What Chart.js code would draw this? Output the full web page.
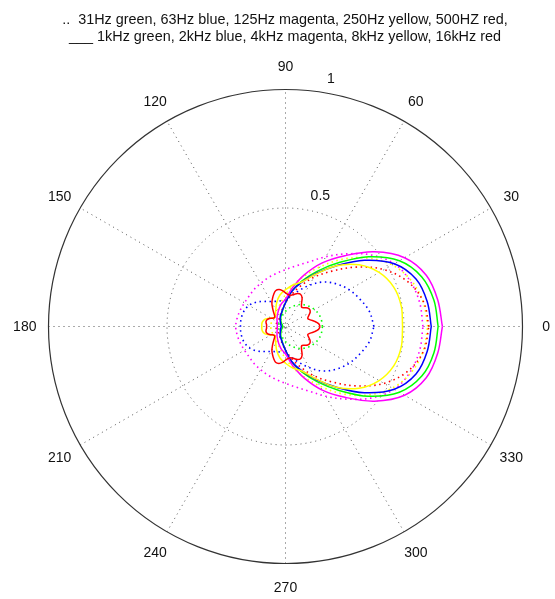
<!DOCTYPE html>
<html><head><meta charset="utf-8">
<script src="https://cdn.jsdelivr.net/npm/chart.js@4"></script>
<style>html,body{margin:0;padding:0;background:#fff}canvas{display:block}</style>
</head><body>
<canvas id="c" width="555" height="599"></canvas>
<script>
// ---- data ----
const titleLines = ["..  31Hz green, 63Hz blue, 125Hz magenta, 250Hz yellow, 500HZ red,",
                    "___ 1kHz green, 2kHz blue, 4kHz magenta, 8kHz yellow, 16kHz red"];
const angleTicks = [0,30,60,90,120,150,180,210,240,270,300,330];
const radialTicks = [0.5,1];
const radialTickLabels = ["0.5","1"];

const angles10 = [0,10,20,30,40,50,60,70,80,90,100,110,120,130,140,150,160,170,180,190,200,210,220,230,240,250,260,270,280,290,300,310,320,330,340,350,360];
const angles5 = [0,5,10,15,20,25,30,35,40,45,50,55,60,65,70,75,80,85,90,95,100,105,110,115,120,125,130,135,140,145,150,155,160,165,170,175,180,185,190,195,200,205,210,215,220,225,230,235,240,245,250,255,260,265,270,275,280,285,290,295,300,305,310,315,320,325,330,335,340,345,350,355,360];

// dotted (low frequencies)
const r31Hz  = [0.156,0.154,0.15,0.142,0.132,0.12,0.106,0.091,0.077,0.064,0.053,0.045,0.04,0.036,0.033,0.031,0.03,0.03,0.03,0.03,0.03,0.031,0.033,0.036,0.04,0.045,0.053,0.064,0.077,0.091,0.106,0.12,0.132,0.142,0.15,0.154,0.156];
const r63Hz  = [0.373,0.36,0.335,0.31,0.28,0.245,0.2,0.16,0.13,0.112,0.11,0.113,0.122,0.138,0.16,0.178,0.187,0.19,0.19,0.19,0.187,0.178,0.16,0.138,0.122,0.113,0.11,0.112,0.13,0.16,0.2,0.245,0.28,0.31,0.335,0.36,0.373];
const r125Hz = [0.58,0.575,0.56,0.53,0.47,0.4,0.34,0.29,0.26,0.24,0.227,0.218,0.21,0.205,0.2,0.2,0.203,0.207,0.21,0.207,0.203,0.2,0.2,0.205,0.21,0.218,0.227,0.24,0.26,0.29,0.34,0.4,0.47,0.53,0.56,0.575,0.58];
const r250Hz = [0.6,0.59,0.565,0.52,0.45,0.37,0.29,0.225,0.175,0.135,0.105,0.085,0.072,0.066,0.063,0.062,0.062,0.062,0.062,0.062,0.062,0.062,0.063,0.066,0.072,0.085,0.105,0.135,0.175,0.225,0.29,0.37,0.45,0.52,0.565,0.59,0.6];
const r500Hz = [0.605,0.592,0.55,0.48,0.39,0.305,0.24,0.18,0.135,0.1,0.075,0.058,0.048,0.042,0.04,0.04,0.04,0.04,0.04,0.04,0.04,0.04,0.04,0.042,0.048,0.058,0.075,0.1,0.135,0.18,0.24,0.305,0.39,0.48,0.55,0.592,0.605];

// solid (high frequencies)
const r1kHz  = [0.644,0.636,0.612,0.555,0.458,0.352,0.27,0.205,0.152,0.10,0.07,0.052,0.04,0.03,0.022,0.017,0.014,0.012,0.012,0.012,0.014,0.017,0.022,0.03,0.04,0.052,0.07,0.10,0.152,0.205,0.27,0.352,0.458,0.555,0.612,0.636,0.644];
const r2kHz  = [0.615,0.607,0.586,0.53,0.435,0.335,0.258,0.198,0.15,0.10,0.072,0.055,0.045,0.035,0.028,0.024,0.021,0.019,0.018,0.019,0.021,0.024,0.028,0.035,0.045,0.055,0.072,0.10,0.15,0.198,0.258,0.335,0.435,0.53,0.586,0.607,0.615];
const r4kHz  = [0.662,0.652,0.632,0.58,0.49,0.39,0.31,0.232,0.165,0.115,0.098,0.08,0.065,0.055,0.047,0.041,0.037,0.035,0.035,0.035,0.037,0.041,0.047,0.055,0.065,0.08,0.098,0.115,0.165,0.232,0.31,0.39,0.49,0.58,0.632,0.652,0.662];
const r8kHz  = [0.494,0.496,0.486,0.456,0.405,0.335,0.255,0.2,0.178,0.155,0.135,0.108,0.082,0.066,0.058,0.072,0.092,0.1,0.1,0.1,0.092,0.072,0.058,0.066,0.082,0.108,0.135,0.155,0.178,0.2,0.255,0.335,0.405,0.456,0.486,0.496,0.494];
const r16kHz = [0.146,0.14,0.125,0.108,0.10,0.108,0.12,0.125,0.122,0.112,0.106,0.118,0.14,0.15,0.148,0.14,0.134,0.135,0.142,0.152,0.158,0.157,0.145,0.13,0.115,0.095,0.078,0.065,0.06,0.062,0.07,0.078,0.083,0.085,0.083,0.08,0.08,
                0.08,0.083,0.085,0.083,0.078,0.07,0.062,0.06,0.065,0.078,0.095,0.115,0.13,0.145,0.157,0.158,0.152,0.142,0.135,0.134,0.14,0.148,0.15,0.14,0.118,0.106,0.112,0.122,0.125,0.12,0.108,0.10,0.108,0.125,0.14,0.146];

// ---- helpers ----
function toXY(angles, radii){
  return angles.map((a,i)=>({x: radii[i]*Math.cos(a*Math.PI/180), y: radii[i]*Math.sin(a*Math.PI/180)}));
}
const DOT = [1.5,3.5];
function ds(label, angles, radii, color, dotted, order){
  return {label, data: toXY(angles, radii), showLine:true, borderColor:color, backgroundColor:color,
          borderWidth: dotted?1.6:1.5, borderDash: dotted?DOT:[], pointRadius:0, tension:0.35, fill:false, order};
}

const FONT = '14px "Liberation Sans", Arial, sans-serif';
const TITLE_FONT = '14.4px "Liberation Sans", Arial, sans-serif';

const polarGrid = {
  id:'polarGrid',
  beforeDatasetsDraw(chart){
    const {ctx, scales:{x,y}} = chart;
    const cx = x.getPixelForValue(0), cy = y.getPixelForValue(0);
    const R = x.getPixelForValue(1) - cx;
    ctx.save();
    ctx.fillStyle = '#fff';
    ctx.beginPath(); ctx.arc(cx,cy,R,0,2*Math.PI); ctx.fill();
    ctx.strokeStyle = '#555'; ctx.lineWidth = 1; ctx.setLineDash([1,4]);
    radialTicks.forEach(t=>{
      if (t < 1) { ctx.beginPath(); ctx.arc(cx,cy,R*t,0,2*Math.PI); ctx.stroke(); }
    });
    for (let k=0;k<6;k++){
      const a = k*30*Math.PI/180;
      ctx.beginPath();
      ctx.moveTo(cx - R*Math.cos(a), cy + R*Math.sin(a));
      ctx.lineTo(cx + R*Math.cos(a), cy - R*Math.sin(a));
      ctx.stroke();
    }
    ctx.restore();
  },
  afterDatasetsDraw(chart){
    const {ctx, scales:{x,y}} = chart;
    const cx = x.getPixelForValue(0), cy = y.getPixelForValue(0);
    const R = x.getPixelForValue(1) - cx;
    ctx.save();
    ctx.setLineDash([]);
    ctx.strokeStyle = '#333'; ctx.lineWidth = 1.2;
    ctx.beginPath(); ctx.arc(cx,cy,R,0,2*Math.PI); ctx.stroke();
    ctx.fillStyle = '#111'; ctx.font = FONT;
    ctx.textAlign = 'center'; ctx.textBaseline = 'middle';
    angleTicks.forEach(a=>{
      const t = a*Math.PI/180;
      ctx.fillText(String(a), cx + 1.1*R*Math.cos(t), cy - 1.1*R*Math.sin(t) + 1);
    });
    // radial tick labels at 82 deg
    const t82 = 82*Math.PI/180;
    ctx.textAlign = 'left'; ctx.textBaseline = 'bottom';
    radialTicks.forEach((v,i)=>{
      const rr = (v + 0.025)*R;
      ctx.fillText('  ' + radialTickLabels[i], cx + rr*Math.cos(t82), cy - rr*Math.sin(t82));
    });
    // title
    ctx.font = TITLE_FONT;
    ctx.textAlign = 'center'; ctx.textBaseline = 'middle';
    ctx.fillText(titleLines[0], 285, 20);
    ctx.fillText(titleLines[1], 285, 37);
    ctx.restore();
  }
};

new Chart(document.getElementById('c'), {
  type:'scatter',
  data:{datasets:[
    ds('31Hz', angles10, r31Hz, '#00ff00', true, 10),
    ds('63Hz', angles10, r63Hz, '#0000ff', true, 9),
    ds('125Hz', angles10, r125Hz, '#ff00ff', true, 8),
    ds('250Hz', angles10, r250Hz, '#ffff00', true, 7),
    ds('500Hz', angles10, r500Hz, '#ff0000', true, 6),
    ds('1kHz', angles10, r1kHz, '#00ff00', false, 5),
    ds('2kHz', angles10, r2kHz, '#0000ff', false, 4),
    ds('4kHz', angles10, r4kHz, '#ff00ff', false, 3),
    ds('8kHz', angles10, r8kHz, '#ffff00', false, 2),
    ds('16kHz', angles5, r16kHz, '#ff0000', false, 1)
  ]},
  options:{
    responsive:false, animation:false, devicePixelRatio:1,
    layout:{padding:{left:48.5, right:32.5, top:89.5, bottom:35.5}},
    scales:{
      x:{type:'linear', min:-1, max:1, display:false},
      y:{type:'linear', min:-1, max:1, display:false}
    },
    plugins:{legend:{display:false}, tooltip:{enabled:false}, title:{display:false}}
  },
  plugins:[polarGrid]
});
</script>
</body></html>
